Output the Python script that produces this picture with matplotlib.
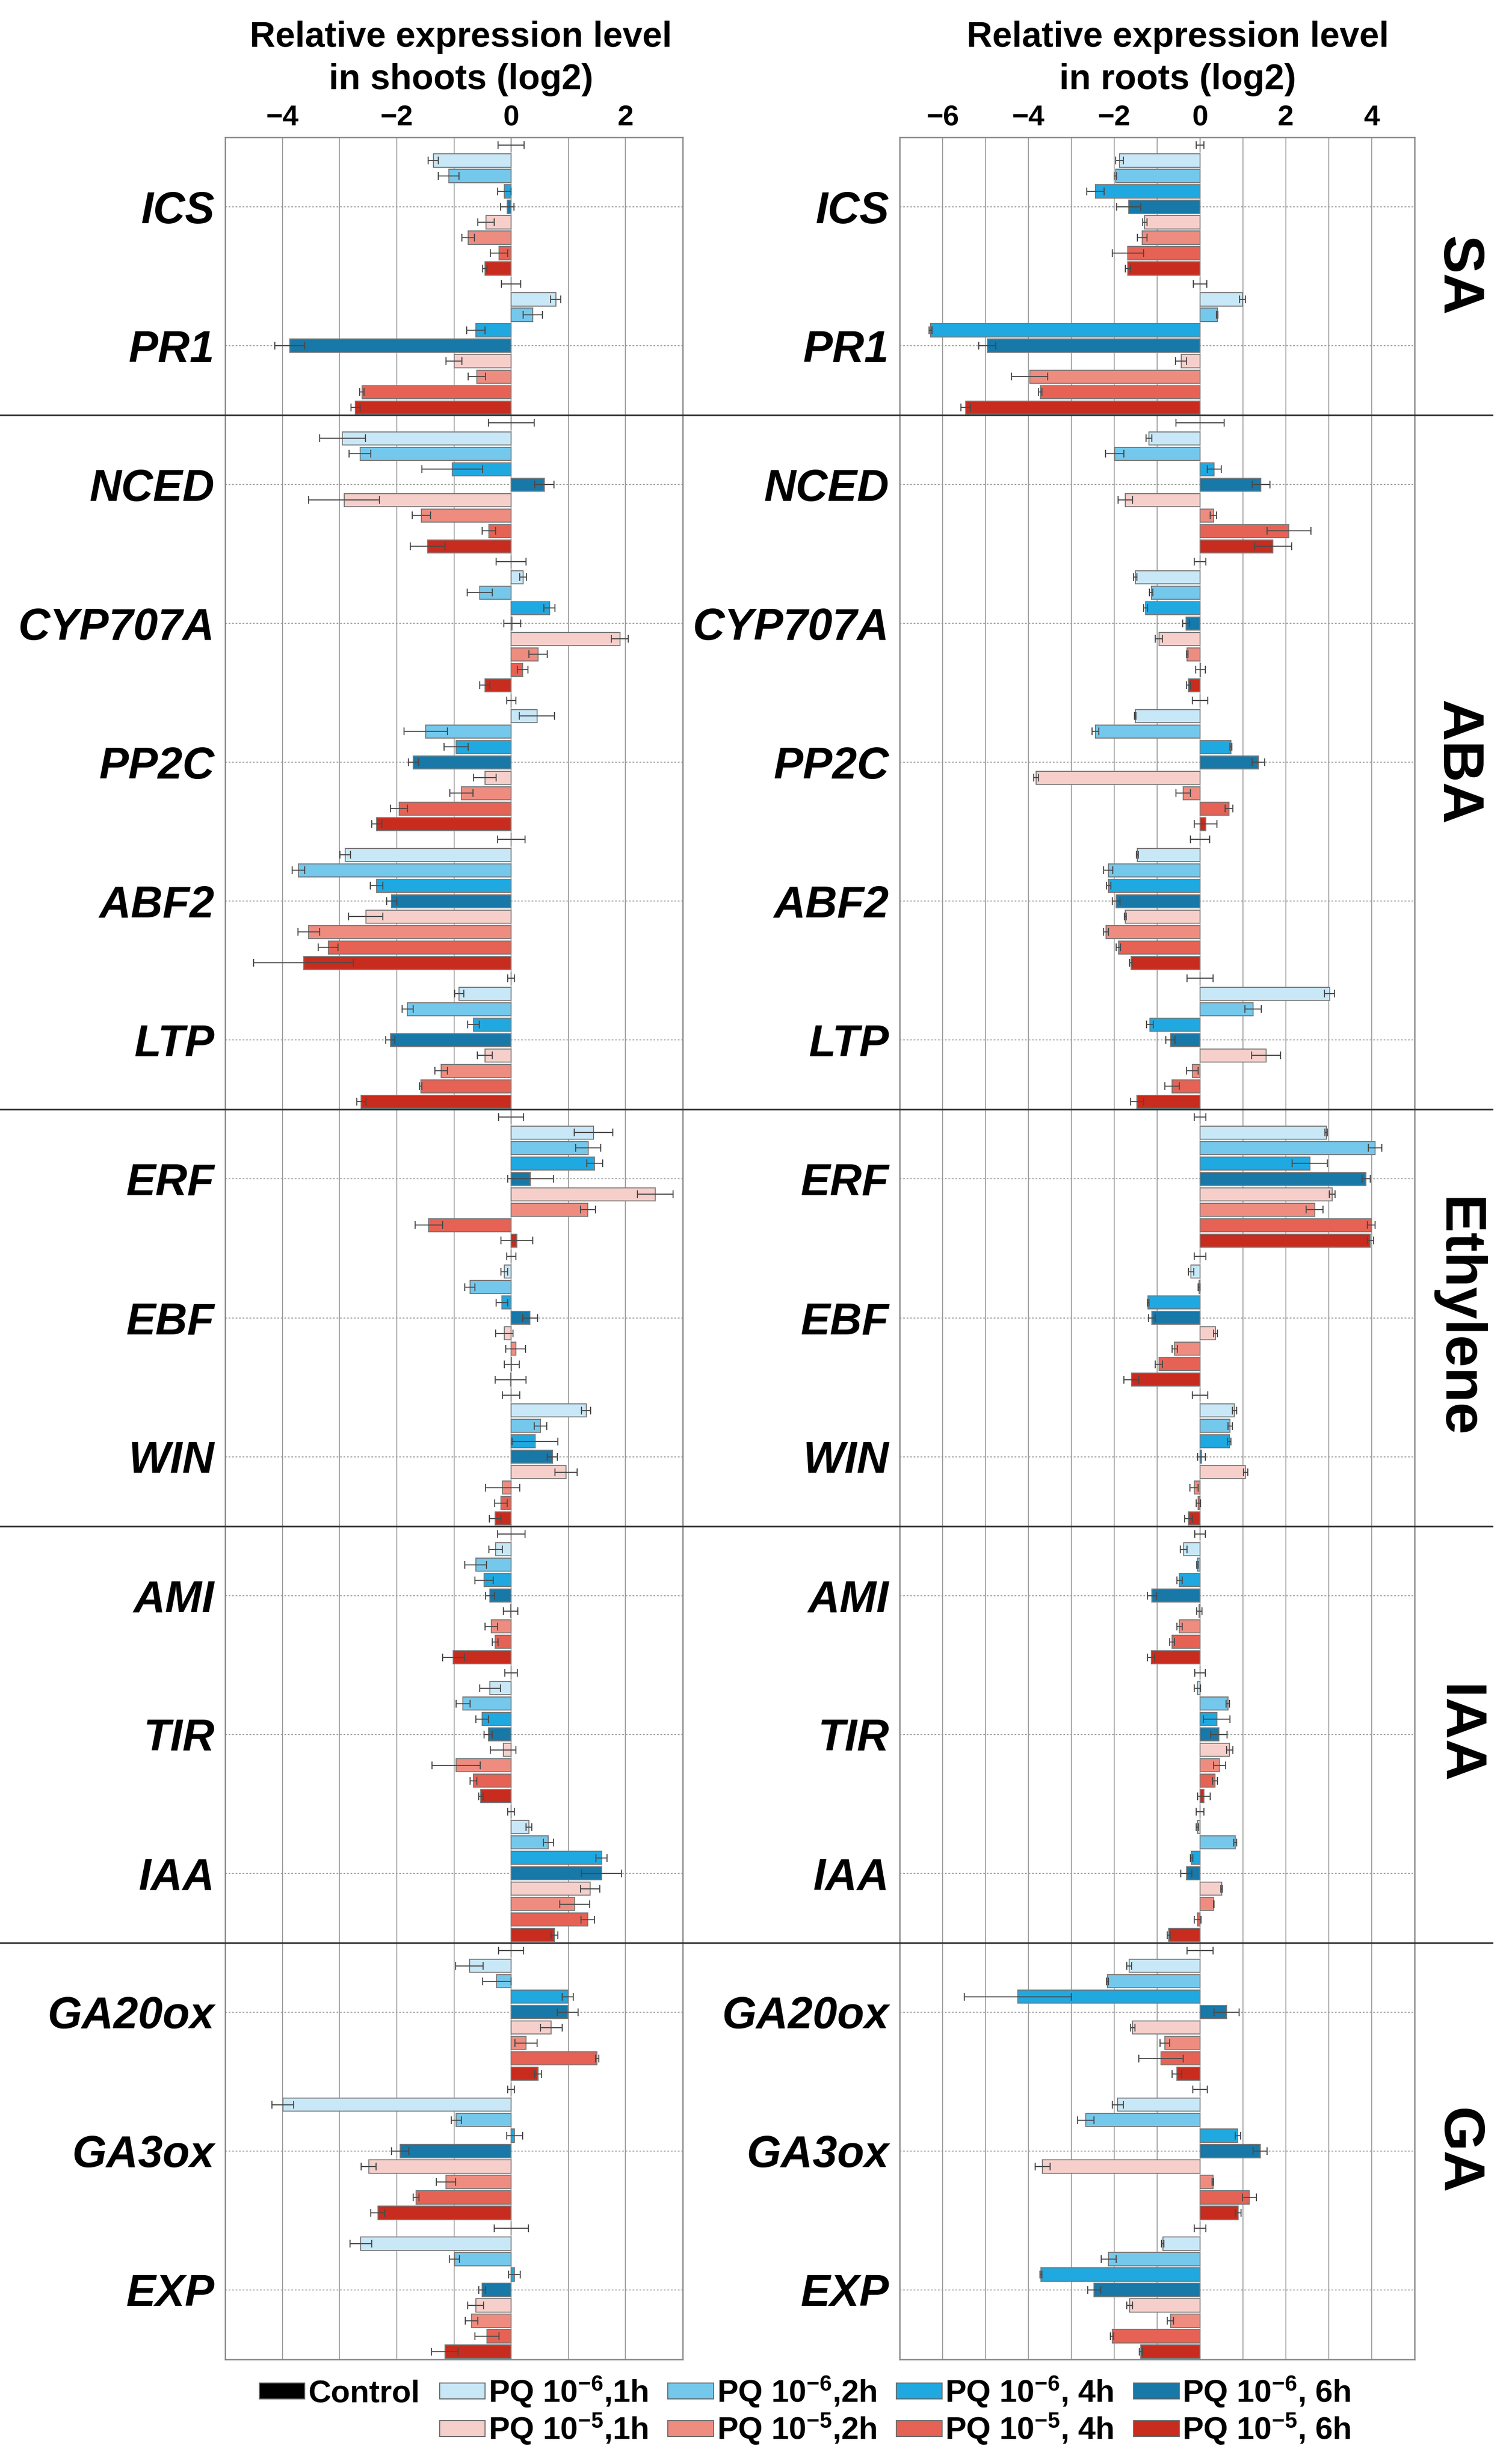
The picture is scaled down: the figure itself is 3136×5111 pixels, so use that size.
import numpy as np
import matplotlib
matplotlib.use("Agg")
import matplotlib.pyplot as plt
from matplotlib.patches import Patch
from matplotlib.lines import Line2D
from matplotlib.transforms import blended_transform_factory

plt.rcParams['font.family'] = ['Liberation Sans', 'DejaVu Sans']
plt.rcParams['mathtext.fontset'] = 'custom'
plt.rcParams['mathtext.rm'] = 'Liberation Sans:bold'
plt.rcParams['mathtext.bf'] = 'Liberation Sans:bold'
plt.rcParams['mathtext.it'] = 'Liberation Sans:bold:italic'

genes = ['ICS', 'PR1', 'NCED', 'CYP707A', 'PP2C', 'ABF2', 'LTP', 'ERF', 'EBF', 'WIN',
         'AMI', 'TIR', 'IAA', 'GA20ox', 'GA3ox', 'EXP']
group_names = ['SA', 'ABA', 'Ethylene', 'IAA', 'GA']
group_sizes = [2, 5, 3, 3, 3]

treatments = ['Control',
              r'PQ 10$^{\mathbf{-6}}$,1h', r'PQ 10$^{\mathbf{-6}}$,2h',
              r'PQ 10$^{\mathbf{-6}}$, 4h', r'PQ 10$^{\mathbf{-6}}$, 6h',
              r'PQ 10$^{\mathbf{-5}}$,1h', r'PQ 10$^{\mathbf{-5}}$,2h',
              r'PQ 10$^{\mathbf{-5}}$, 4h', r'PQ 10$^{\mathbf{-5}}$, 6h']
colors = ['#000000', '#C8E8F8', '#74C8EC', '#20A8E0', '#1878A8',
          '#F6CFCB', '#EE8C80', '#E66254', '#C82C1E']

# log2 values, order: control, 10-6 1h/2h/4h/6h, 10-5 1h/2h/4h/6h
shoots_mean = [
    [0, -1.36, -1.09, -0.12, -0.07, -0.44, -0.75, -0.21, -0.46],
    [0, 0.78, 0.38, -0.62, -3.87, -1.00, -0.60, -2.61, -2.72],
    [0, -2.95, -2.64, -1.03, 0.58, -2.92, -1.57, -0.39, -1.46],
    [0, 0.21, -0.55, 0.67, 0.02, 1.90, 0.47, 0.20, -0.46],
    [0, 0.45, -1.49, -0.96, -1.71, -0.46, -0.87, -1.96, -2.35],
    [0, -2.90, -3.72, -2.35, -2.09, -2.54, -3.54, -3.20, -3.63],
    [0, -0.91, -1.81, -0.66, -2.11, -0.46, -1.22, -1.58, -2.62],
    [0, 1.44, 1.35, 1.46, 0.34, 2.52, 1.34, -1.44, 0.10],
    [0, -0.12, -0.72, -0.16, 0.33, -0.12, 0.08, 0.01, -0.01],
    [0, 1.31, 0.51, 0.42, 0.72, 0.96, -0.15, -0.18, -0.28],
    [0, -0.27, -0.62, -0.47, -0.37, -0.01, -0.35, -0.28, -1.01],
    [0, -0.37, -0.84, -0.51, -0.40, -0.14, -0.96, -0.66, -0.53],
    [0, 0.31, 0.65, 1.58, 1.58, 1.38, 1.11, 1.34, 0.76],
    [0, -0.73, -0.25, 0.99, 0.99, 0.70, 0.26, 1.50, 0.47],
    [0, -3.99, -0.96, 0.06, -1.94, -2.49, -1.14, -1.66, -2.33],
    [0, -2.63, -0.99, 0.06, -0.51, -0.62, -0.69, -0.42, -1.16],
]
shoots_err = [
    [0.23, 0.09, 0.18, 0.12, 0.12, 0.14, 0.11, 0.15, 0.04],
    [0.17, 0.09, 0.17, 0.16, 0.26, 0.14, 0.15, 0.04, 0.08],
    [0.40, 0.40, 0.19, 0.53, 0.17, 0.62, 0.16, 0.12, 0.30],
    [0.26, 0.06, 0.22, 0.10, 0.15, 0.15, 0.16, 0.09, 0.09],
    [0.08, 0.31, 0.38, 0.21, 0.09, 0.20, 0.20, 0.15, 0.09],
    [0.24, 0.09, 0.11, 0.11, 0.09, 0.30, 0.19, 0.17, 0.87],
    [0.06, 0.08, 0.10, 0.10, 0.08, 0.13, 0.11, 0.02, 0.08],
    [0.22, 0.34, 0.22, 0.14, 0.40, 0.31, 0.13, 0.24, 0.28],
    [0.08, 0.06, 0.09, 0.10, 0.13, 0.15, 0.17, 0.13, 0.27],
    [0.15, 0.08, 0.11, 0.40, 0.09, 0.19, 0.30, 0.11, 0.10],
    [0.24, 0.12, 0.19, 0.16, 0.08, 0.13, 0.11, 0.05, 0.19],
    [0.11, 0.18, 0.12, 0.11, 0.07, 0.22, 0.42, 0.06, 0.04],
    [0.06, 0.05, 0.09, 0.10, 0.35, 0.17, 0.26, 0.12, 0.06],
    [0.22, 0.24, 0.25, 0.10, 0.18, 0.19, 0.19, 0.03, 0.06],
    [0.06, 0.19, 0.09, 0.14, 0.15, 0.13, 0.17, 0.05, 0.12],
    [0.30, 0.19, 0.09, 0.10, 0.06, 0.14, 0.11, 0.21, 0.23],
]
roots_mean = [
    [0, -1.88, -1.97, -2.44, -1.66, -1.29, -1.35, -1.68, -1.68],
    [0, 0.99, 0.40, -6.28, -4.96, -0.44, -3.97, -3.72, -5.46],
    [0, -1.19, -1.99, 0.33, 1.42, -1.74, 0.31, 2.07, 1.70],
    [0, -1.51, -1.14, -1.27, -0.33, -0.96, -0.30, 0.01, -0.27],
    [0, -1.51, -2.44, 0.72, 1.36, -3.82, -0.39, 0.67, 0.13],
    [0, -1.46, -2.14, -2.13, -1.96, -1.74, -2.19, -1.90, -1.61],
    [0, 3.02, 1.24, -1.17, -0.69, 1.54, -0.18, -0.65, -1.47],
    [0, 2.94, 4.08, 2.56, 3.87, 3.08, 2.67, 3.99, 3.97],
    [0, -0.21, -0.02, -1.21, -1.12, 0.36, -0.59, -0.96, -1.60],
    [0, 0.80, 0.70, 0.68, 0.03, 1.06, -0.14, -0.04, -0.27],
    [0, -0.38, -0.06, -0.48, -1.12, -0.02, -0.48, -0.65, -1.14],
    [0, -0.06, 0.65, 0.39, 0.44, 0.69, 0.45, 0.35, 0.09],
    [0, -0.06, 0.82, -0.20, -0.32, 0.50, 0.32, -0.06, -0.73],
    [0, -1.65, -2.16, -4.25, 0.62, -1.57, -0.82, -0.91, -0.54],
    [0, -1.92, -2.66, 0.88, 1.40, -3.67, 0.30, 1.15, 0.89],
    [0, -0.87, -2.13, -3.71, -2.47, -1.64, -0.69, -2.05, -1.38],
]
roots_err = [
    [0.09, 0.09, 0.03, 0.20, 0.28, 0.05, 0.11, 0.36, 0.06],
    [0.16, 0.07, 0.02, 0.03, 0.20, 0.13, 0.42, 0.04, 0.11],
    [0.56, 0.07, 0.21, 0.16, 0.21, 0.17, 0.07, 0.51, 0.43],
    [0.14, 0.04, 0.04, 0.04, 0.08, 0.08, 0.02, 0.11, 0.05],
    [0.18, 0.02, 0.08, 0.02, 0.15, 0.06, 0.17, 0.09, 0.26],
    [0.23, 0.02, 0.11, 0.05, 0.09, 0.02, 0.06, 0.05, 0.03],
    [0.30, 0.12, 0.19, 0.08, 0.11, 0.34, 0.13, 0.17, 0.15],
    [0.13, 0.03, 0.16, 0.41, 0.10, 0.07, 0.20, 0.09, 0.07],
    [0.13, 0.06, 0.02, 0.02, 0.08, 0.04, 0.06, 0.08, 0.17],
    [0.18, 0.05, 0.05, 0.04, 0.09, 0.05, 0.10, 0.05, 0.09],
    [0.12, 0.08, 0.02, 0.06, 0.11, 0.06, 0.06, 0.06, 0.08],
    [0.12, 0.07, 0.04, 0.31, 0.19, 0.07, 0.14, 0.06, 0.15],
    [0.09, 0.03, 0.03, 0.03, 0.13, 0.02, 0.01, 0.08, 0.03],
    [0.30, 0.06, 0.02, 1.25, 0.29, 0.05, 0.11, 0.52, 0.11],
    [0.17, 0.13, 0.19, 0.06, 0.16, 0.17, 0.02, 0.16, 0.07],
    [0.14, 0.03, 0.17, 0.02, 0.15, 0.07, 0.07, 0.04, 0.04],
]

nrow = len(treatments)
W, H = 3136, 5111


def draw_panel(ax, means, errs, xmin, xmax, labeled):
    for g, gene in enumerate(genes):
        y = g * nrow + np.arange(nrow)
        ax.barh(y, means[g], height=0.85, color=colors, edgecolor='#7a7a7a',
                linewidth=1.5, zorder=3)
        ax.errorbar(means[g], y, xerr=errs[g], fmt='none', ecolor='#4a4a4a',
                    elinewidth=1.6, capsize=5.5, capthick=1.6, zorder=4)
    ax.set_xlim(xmin, xmax)
    ax.set_ylim(len(genes) * nrow - 0.5, -0.5)
    ax.set_yticks([g * nrow + (nrow - 1) / 2 for g in range(len(genes))])
    ax.set_yticklabels(genes, fontsize=66, fontweight='bold', fontstyle='italic')
    xt = list(range(xmin + 1, xmax))
    ax.set_xticks(xt)
    ax.set_xticklabels([('\u2212%d' % -v if v < 0 else '%d' % v) if v in labeled else ''
                        for v in xt], fontsize=43, fontweight='bold')
    ax.xaxis.tick_top()
    ax.tick_params(axis='x', length=0, pad=9)
    ax.tick_params(axis='y', length=0, pad=16)
    ax.grid(axis='x', color='#9a9a9a', linewidth=1.3, zorder=0)
    ax.grid(axis='y', color='#9a9a9a', linewidth=1.3, linestyle=(0, (2, 2)), zorder=0)
    ax.set_axisbelow(True)
    for sp in ax.spines.values():
        sp.set_color('#8a8a8a')
        sp.set_linewidth(2)


fig = plt.figure(figsize=(W / 100, H / 100), dpi=100)
bottom = 1 - 4894 / H
height = (4894 - 285) / H
ax_s = fig.add_axes([467 / W, bottom, (1416 - 467) / W, height])
ax_r = fig.add_axes([1866 / W, bottom, (2934 - 1866) / W, height])

draw_panel(ax_s, shoots_mean, shoots_err, -5, 3, [-4, -2, 0, 2])
draw_panel(ax_r, roots_mean, roots_err, -7, 5, [-6, -4, -2, 0, 2, 4])

# titles
for xc, tissue in [(956, 'shoots'), (2443, 'roots')]:
    fig.text(xc / W, 1 - 97 / H, 'Relative expression level', ha='center',
             va='baseline', fontsize=53, fontweight='bold')
    fig.text(xc / W, 1 - 185 / H, 'in %s (log2)' % tissue, ha='center',
             va='baseline', fontsize=53, fontweight='bold')

# group separators and group names
trans = blended_transform_factory(fig.transFigure, ax_s.transData)
start = 0
for name, size in zip(group_names, group_sizes):
    end = start + size
    if end < len(genes):
        yb = end * nrow - 0.5
        fig.add_artist(Line2D([0.0, 0.987], [yb, yb], transform=trans,
                              color='#333333', linewidth=2.5))
    yc = (start * nrow - 0.5 + end * nrow - 0.5) / 2
    fig.text(3022 / W, yc, name, transform=trans, rotation=270, ha='center',
             va='center', fontsize=86, fontweight='bold')
    start = end

# legend
handles = []
labels = []
for i, lab in enumerate(treatments):
    handles.append(Patch(facecolor=colors[i], edgecolor='#6a6a6a', linewidth=1.5))
    labels.append(lab)
    if i == 0:
        handles.append(Patch(facecolor='none', edgecolor='none'))
        labels.append('')
# reorder so that columns pair 10^-6 over 10^-5
order = [0, 1, 2, 6, 3, 7, 4, 8, 5, 9]
handles = [handles[k] for k in order]
labels = [labels[k] for k in order]
fig.legend(handles, labels, ncol=5, loc='center', bbox_to_anchor=(0.5325, 1 - 5000 / H),
           frameon=False, prop={'weight': 'bold', 'size': 47}, handlelength=1.45,
           handleheight=0.4, handletextpad=0.1, columnspacing=0.63, labelspacing=0.1)

fig.savefig('out.png', dpi=100)
